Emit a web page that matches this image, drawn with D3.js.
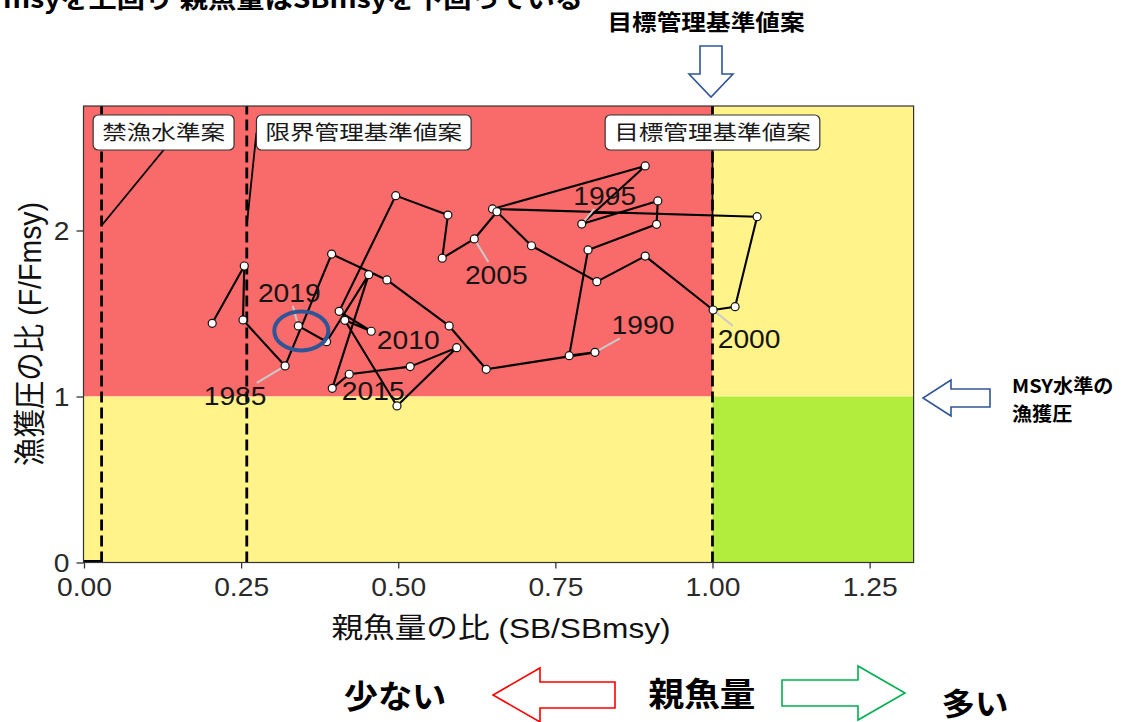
<!DOCTYPE html>
<html lang="ja">
<head>
<meta charset="utf-8">
<title>親魚量と漁獲圧の推移</title>
<script src="https://cdn.jsdelivr.net/npm/d3@7/dist/d3.min.js"></script>
<style>
  html, body { margin: 0; padding: 0; background: #fff; }
  svg { display: block; }
</style>
</head>
<body>
<svg id="chart" width="1140" height="722"></svg>
<script>
// ---- data: yearly spawning-biomass ratio and fishing-pressure ratio ----
const years = [1982, 1983, 1984, 1985, 1986, 1987, 1988, 1989, 1990, 1991,
               1992, 1993, 1994, 1995, 1996, 1997, 1998, 1999, 2000, 2001,
               2002, 2003, 2004, 2005, 2006, 2007, 2008, 2009, 2010, 2011,
               2012, 2013, 2014, 2015, 2016, 2017, 2018, 2019];
const sbRatio = [0.204, 0.255, 0.253, 0.320, 0.394, 0.482, 0.581, 0.640, 0.813, 0.772,
                 0.802, 0.911, 0.913, 0.792, 0.893, 0.650, 1.071, 1.036, 1.001, 0.893,
                 0.816, 0.712, 0.657, 0.621, 0.570, 0.579, 0.496, 0.406, 0.457, 0.415,
                 0.498, 0.593, 0.519, 0.422, 0.395, 0.453, 0.386, 0.341];
const fRatio = [1.441, 1.786, 1.461, 1.184, 1.858, 1.702, 1.425, 1.164, 1.266, 1.246,
                1.883, 2.037, 2.178, 2.039, 2.389, 2.130, 2.083, 1.541, 1.521, 1.846,
                1.692, 1.908, 2.113, 1.949, 1.833, 2.093, 2.210, 1.513, 1.393, 1.459,
                0.943, 1.294, 1.180, 1.134, 1.049, 1.734, 1.330, 1.425];
const labelledYears = [1985, 1990, 1995, 2000, 2005, 2010, 2015, 2019];

// reference points proposed for management
const refNames = ["禁漁水準案", "限界管理基準値案", "目標管理基準値案"];
const refLevels = [0.028, 0.259, 1.0];
const fMsyLevel = 1;

const xTickValues = [0, 0.25, 0.5, 0.75, 1.0, 1.25];
const yTickValues = [0, 1, 2];
const xDomain = [0, 1.32];
const yDomain = [0, 2.75];

// ---- drawing ----
const FONT_LATIN = "'Liberation Sans', Arial, sans-serif";
const FONT_JP = "'Noto Sans CJK JP', sans-serif";
const FONT_MIX = "'Liberation Sans', Arial, 'Noto Sans CJK JP', sans-serif";

const svg = d3.select('#chart');
const x = d3.scaleLinear().domain(xDomain).range([84, 913.6]);
const y = d3.scaleLinear().domain(yDomain).range([562.5, 106]);

const series = years.map((yr, i) => ({ year: yr, sb: sbRatio[i], f: fRatio[i] }));

// text helper with a horizontal stretch
function addText(parent, px, py, str, o) {
  const t = parent.append('text')
    .attr('transform', `translate(${px},${py}) scale(${o.sx || 1},1)`)
    .attr('text-anchor', o.anchor || 'start')
    .attr('font-family', o.family || FONT_MIX)
    .attr('font-size', o.size)
    .attr('font-weight', o.weight || 'normal')
    .attr('fill', o.fill || '#000')
    .text(str);
  return t;
}

// status zones
const sbT = refLevels[2];
const zones = [
  { x0: xDomain[0], x1: sbT, y0: fMsyLevel, y1: yDomain[1], fill: '#F96B6A' },
  { x0: xDomain[0], x1: sbT, y0: yDomain[0], y1: fMsyLevel, fill: '#FFF38A' },
  { x0: sbT, x1: xDomain[1], y0: fMsyLevel, y1: yDomain[1], fill: '#FFF38A' },
  { x0: sbT, x1: xDomain[1], y0: yDomain[0], y1: fMsyLevel, fill: '#B2EC3C' }
];
const panel = svg.append('g');
panel.selectAll('rect.zone').data(zones).join('rect')
  .attr('class', 'zone')
  .attr('x', d => x(d.x0)).attr('width', d => x(d.x1) - x(d.x0))
  .attr('y', d => y(d.y1)).attr('height', d => y(d.y0) - y(d.y1))
  .attr('fill', d => d.fill);

// reference lines
panel.selectAll('line.ref').data(refLevels).join('line')
  .attr('class', 'ref')
  .attr('x1', d => x(d)).attr('x2', d => x(d))
  .attr('y1', y(yDomain[0])).attr('y2', y(yDomain[1]))
  .attr('stroke', '#000').attr('stroke-width', 2.8)
  .attr('stroke-dasharray', '11,5');

// harvest-control floor below the ban level
panel.append('line')
  .attr('x1', x(0)).attr('x2', x(refLevels[0]))
  .attr('y1', y(0) - 1).attr('y2', y(0) - 1)
  .attr('stroke', '#000').attr('stroke-width', 3);

// reference labels (boxed) with leaders
const boxLayout = [
  { dx: 62, attach: 'bottom' },
  { dx: 117, attach: 'left' },
  { dx: 0, attach: 'bottom' }
];
const boxCy = 132.5, boxH = 35, leaderF = 2.03;
refNames.forEach((name, i) => {
  const lay = boxLayout[i];
  const cx = x(refLevels[i]) + lay.dx;
  const g = svg.append('g');
  const tmp = addText(g, 0, 0, name, { size: 20.5, family: FONT_JP, sx: 1.2 });
  const w = tmp.node().getBBox().width * 1.2 + 18;
  tmp.remove();
  const ax = lay.attach === 'left' ? cx - w / 2 : cx;
  const ay = lay.attach === 'left' ? boxCy : boxCy + boxH / 2;
  g.append('line')
    .attr('x1', ax).attr('y1', ay)
    .attr('x2', x(refLevels[i])).attr('y2', y(leaderF))
    .attr('stroke', '#000').attr('stroke-width', 1.8);
  g.append('rect')
    .attr('x', cx - w / 2).attr('y', boxCy - boxH / 2)
    .attr('width', w).attr('height', boxH)
    .attr('rx', 5).attr('ry', 5)
    .attr('fill', '#fff').attr('stroke', '#333').attr('stroke-width', 1.2);
  addText(g, cx, boxCy + 7.5, name, { size: 20.5, family: FONT_JP, sx: 1.2, anchor: 'middle', fill: '#1a1a1a' });
});

// trajectory
const line = d3.line().x(d => x(d.sb)).y(d => y(d.f));
svg.append('path').datum(series)
  .attr('d', line)
  .attr('fill', 'none').attr('stroke', '#000')
  .attr('stroke-width', 2.1).attr('stroke-linejoin', 'round');

// year labels: placement offsets (px) of each text centre from its point
const labelOffset = {
  1985: [-50, 30], 1990: [48, -27], 1995: [23, -28], 2000: [36, 29],
  2005: [22, 36], 2010: [37, 9], 2015: [24, 17], 2019: [-9, -33]
};
const LAB_SIZE = 25, LAB_SX = 1.13;
const labelled = series.filter(d => labelledYears.includes(d.year)).map(d => {
  const px = x(d.sb), py = y(d.f);
  const off = labelOffset[d.year];
  return { ...d, px, py, cx: px + off[0], cy: py + off[1] };
});
// leader segments from point toward label centre, clipped at the label box
const hw = 36, hh = 13;
labelled.forEach(d => {
  const dx = d.cx - d.px, dy = d.cy - d.py;
  const s = Math.min(Math.abs(dx) > 0 ? hw / Math.abs(dx) : Infinity,
                     Math.abs(dy) > 0 ? hh / Math.abs(dy) : Infinity);
  if (s >= 1) return;
  const bx = d.cx - dx * s, by = d.cy - dy * s;
  if (Math.hypot(bx - d.px, by - d.py) < 9) return;
  svg.append('line')
    .attr('x1', d.px).attr('y1', d.py).attr('x2', bx).attr('y2', by)
    .attr('stroke', '#c9c9c9').attr('stroke-width', 2);
});

// points
svg.selectAll('circle.pt').data(series).join('circle')
  .attr('class', 'pt')
  .attr('cx', d => x(d.sb)).attr('cy', d => y(d.f))
  .attr('r', 4)
  .attr('fill', '#fff').attr('stroke', '#111').attr('stroke-width', 1.2);

// year label texts
labelled.forEach(d => {
  addText(svg, d.cx, d.cy + 9, String(d.year),
    { size: LAB_SIZE, family: FONT_LATIN, sx: LAB_SX, anchor: 'middle', fill: '#141414' });
});

// ring around the latest year
const last = series[series.length - 1];
svg.append('ellipse')
  .attr('cx', x(last.sb) + 3).attr('cy', y(last.f) + 5)
  .attr('rx', 27).attr('ry', 19.5)
  .attr('fill', 'none').attr('stroke', '#2F5597').attr('stroke-width', 4);

// panel border
svg.append('rect')
  .attr('x', x(xDomain[0]) - 0.5).attr('y', y(yDomain[1]))
  .attr('width', x(xDomain[1]) - x(xDomain[0]) + 0.5)
  .attr('height', y(yDomain[0]) - y(yDomain[1]))
  .attr('fill', 'none').attr('stroke', '#333').attr('stroke-width', 1.2);

// axes
const xAxis = d3.axisBottom(x).tickValues(xTickValues)
  .tickFormat(d3.format('.2f')).tickSize(6);
svg.append('g').attr('transform', `translate(0,${y(0)})`).call(xAxis)
  .call(g => {
    g.select('.domain').remove();
    g.selectAll('.tick line').attr('stroke', '#333').attr('stroke-width', 1.3);
    g.selectAll('.tick text')
      .attr('y', 34).attr('dy', null)
      .attr('transform', `scale(${LAB_SX},1)`)
      .attr('font-family', FONT_LATIN).attr('font-size', 25).attr('fill', '#2a2a2a');
  });
const yAxis = d3.axisLeft(y).tickValues(yTickValues)
  .tickFormat(d3.format('d')).tickSize(7);
svg.append('g').attr('transform', `translate(${x(0) - 0.5},0)`).call(yAxis)
  .call(g => {
    g.select('.domain').remove();
    g.selectAll('.tick line').attr('stroke', '#333').attr('stroke-width', 1.3);
    g.selectAll('.tick text')
      .attr('x', -12.5).attr('dy', '0.35em')
      .attr('transform', `scale(${LAB_SX},1)`)
      .attr('font-family', FONT_LATIN).attr('font-size', 25).attr('fill', '#2a2a2a');
  });

// axis titles
addText(svg, 501, 638, '親魚量の比 (SB/SBmsy)', { size: 28, sx: 1.13, anchor: 'middle', fill: '#111' });
svg.append('text')
  .attr('transform', 'translate(41,334) rotate(-90) scale(1,1.1)')
  .attr('text-anchor', 'middle')
  .attr('font-family', FONT_MIX).attr('font-size', 28.5).attr('fill', '#111')
  .text('漁獲圧の比 (F/Fmsy)');

// ---- annotations around the plot ----
addText(svg, 3, 8, 'msyを上回り 親魚量はSBmsyを下回っている',
  { size: 25, family: FONT_JP, weight: 'bold', sx: 1.13 });
addText(svg, 706, 30, '目標管理基準値案', { size: 22, family: FONT_JP, weight: 'bold', sx: 1.12, anchor: 'middle' });

const arrowStyle = (p, col) => p.attr('fill', '#fff').attr('stroke', col)
  .attr('stroke-width', 1.6).attr('stroke-linejoin', 'miter');
arrowStyle(svg.append('path')
  .attr('d', 'M700,46 L722,46 L722,74 L733,74 L711,97 L689,74 L700,74 Z'), '#2F5597');
arrowStyle(svg.append('path')
  .attr('d', 'M990,389 L951,389 L951,380 L923,398 L951,416 L951,407 L990,407 Z'), '#2F5597');
addText(svg, 1012, 393, 'MSY水準の', { size: 19, family: FONT_JP, weight: 'bold', sx: 1.06 });
addText(svg, 1012, 421, '漁獲圧', { size: 19, family: FONT_JP, weight: 'bold', sx: 1.06 });

arrowStyle(svg.append('path')
  .attr('d', 'M615,682 L540,682 L540,668 L493,695 L540,722 L540,708 L615,708 Z'), '#FF0000');
arrowStyle(svg.append('path')
  .attr('d', 'M782,680 L858,680 L858,666 L905,693 L858,720 L858,706 L782,706 Z'), '#00B050');
addText(svg, 395, 708, '少ない', { size: 32, family: FONT_JP, weight: 'bold', sx: 1.07, anchor: 'middle' });
addText(svg, 702, 706, '親魚量', { size: 33, family: FONT_JP, weight: 'bold', sx: 1.08, anchor: 'middle' });
addText(svg, 975, 715, '多い', { size: 31, family: FONT_JP, weight: 'bold', sx: 1.08, anchor: 'middle' });
</script>
</body>
</html>
